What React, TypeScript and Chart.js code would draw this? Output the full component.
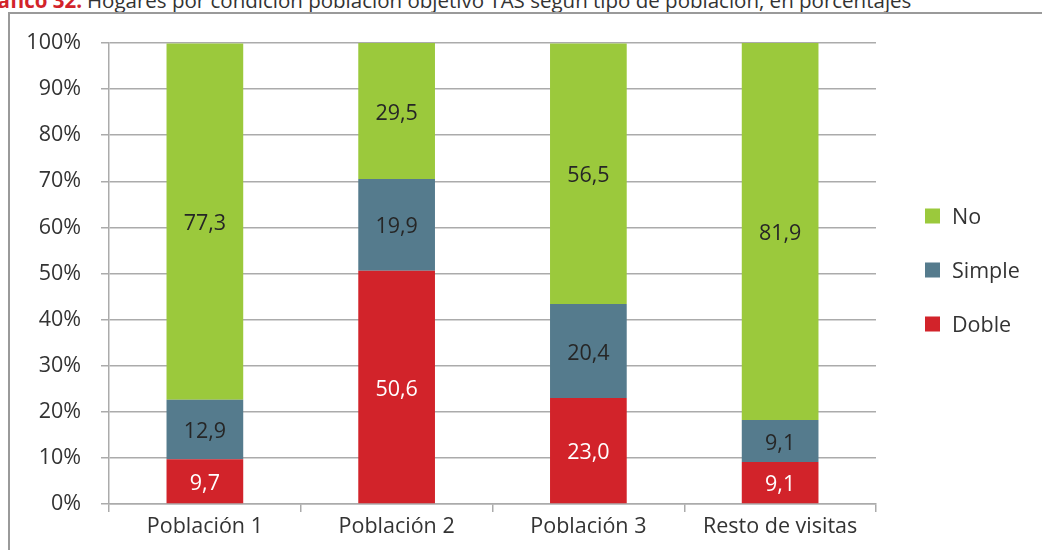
import React, { useEffect, useRef } from "react";
import { Chart, registerables } from "chart.js";

Chart.register(...registerables);

const categories = ["Población 1", "Población 2", "Población 3", "Resto de visitas"];
const seriesNames = ["Doble", "Simple", "No"];
const dobleValues = [9.7, 50.6, 23.0, 9.1];
const simpleValues = [12.9, 19.9, 20.4, 9.1];
const noValues = [77.3, 29.5, 56.5, 81.9];
const yTicks = [0, 10, 20, 30, 40, 50, 60, 70, 80, 90, 100];

const seriesColors = ["#D2232A", "#557B8D", "#9BC93C"];
const labelColors = ["#ffffff", "#262626", "#262626"];

const FONT = "'Open Sans', sans-serif";
const FS = 21.5;
const TITLE_FS = 20.5;
const TEXT = "#333333";
const GRID = "#ababab";

const dataLabelPlugin = {
  id: "dataLabels",
  afterDatasetsDraw(chart: any) {
    const ctx = chart.ctx;
    ctx.save();
    ctx.font = `${FS}px ${FONT}`;
    ctx.textAlign = "center";
    ctx.textBaseline = "middle";
    chart.data.datasets.forEach((ds: any, di: number) => {
      const meta = chart.getDatasetMeta(di);
      meta.data.forEach((bar: any, i: number) => {
        const v = ds.data[i];
        const y = (bar.y + bar.base) / 2;
        ctx.fillStyle = labelColors[di];
        ctx.fillText(v.toFixed(1).replace(".", ","), bar.x, y + 2.5);
      });
    });
    ctx.restore();
  },
};

const legendPlugin = {
  id: "customLegend",
  afterDraw(chart: any) {
    const ctx = chart.ctx;
    const area = chart.chartArea;
    const x = area.right + 49;
    const cy = 270;
    const gap = 54;
    const items = chart.data.datasets.map((d: any) => d).reverse();
    ctx.save();
    ctx.font = `${FS}px ${FONT}`;
    ctx.textBaseline = "middle";
    ctx.textAlign = "left";
    items.forEach((ds: any, i: number) => {
      const y = cy + (i - 1) * gap;
      ctx.fillStyle = ds.backgroundColor;
      ctx.fillRect(x, y - 7.5, 15, 15);
      ctx.fillStyle = TEXT;
      ctx.fillText(ds.label, x + 27, y + 2);
    });
    ctx.restore();
  },
};

export default function App() {
  const ref = useRef<HTMLCanvasElement | null>(null);

  useEffect(() => {
    if (!ref.current) return;
    const values = [dobleValues, simpleValues, noValues];
    const chart = new Chart(ref.current, {
      type: "bar",
      data: {
        labels: categories,
        datasets: seriesNames.map((name, i) => ({
          label: name,
          data: values[i],
          backgroundColor: seriesColors[i],
          borderWidth: 0,
          barPercentage: 0.4,
          categoryPercentage: 1,
        })),
      },
      options: {
        animation: false,
        responsive: false,
        maintainAspectRatio: false,
        layout: { padding: { top: 43, right: 166, bottom: 0, left: 0 } },
        plugins: {
          legend: { display: false },
          tooltip: { enabled: false },
          title: { display: false },
        },
        scales: {
          x: {
            stacked: true,
            grid: {
              display: true,
              drawOnChartArea: false,
              drawTicks: true,
              tickLength: 8,
              color: GRID,
              lineWidth: 1.5,
              offset: true,
            },
            border: { display: true, color: GRID, width: 1.5 },
            ticks: {
              color: TEXT,
              font: { family: FONT, size: FS },
              padding: 2,
              maxRotation: 0,
            },
            afterFit(scale: any) {
              scale.height = 46;
            },
          },
          y: {
            stacked: true,
            min: 0,
            max: 100,
            afterBuildTicks(scale: any) {
              scale.ticks = yTicks.map((v) => ({ value: v }));
            },
            grid: {
              color: GRID,
              lineWidth: 1.5,
              drawTicks: true,
              tickLength: 8,
            },
            border: { display: true, color: GRID, width: 1.5 },
            ticks: {
              color: TEXT,
              font: { family: FONT, size: FS },
              padding: 20,
              callback: (v: any) => `${v}%`,
            },
            afterFit(scale: any) {
              scale.width = 109;
            },
          },
        },
      },
      plugins: [dataLabelPlugin, legendPlugin],
    });
    return () => chart.destroy();
  }, []);

  return (
    <div
      style={{
        position: "absolute",
        left: 0,
        top: 0,
        width: 1042,
        height: 550,
        overflow: "hidden",
        background: "#ffffff",
        fontFamily: FONT,
      }}
    >
      <div
        style={{
          position: "absolute",
          right: 1042 - 82,
          top: -14,
          fontSize: TITLE_FS,
          fontWeight: 700,
          color: "#D2232A",
          whiteSpace: "nowrap",
          lineHeight: "28px",
        }}
      >
        Gráfico 32.
      </div>
      <div
        style={{
          position: "absolute",
          left: 87,
          top: -14,
          fontSize: TITLE_FS,
          color: TEXT,
          whiteSpace: "nowrap",
          lineHeight: "28px",
        }}
      >
        Hogares por condición población objetivo TAS según tipo de población, en porcentajes
      </div>
      <div
        style={{
          position: "absolute",
          left: 8,
          top: 12,
          width: 1100,
          height: 600,
          border: "2px solid #9a9a9a",
          boxSizing: "border-box",
        }}
      />
      <canvas
        ref={ref}
        width={1042}
        height={550}
        style={{ position: "absolute", left: 0, top: 0, width: 1042, height: 550 }}
      />
    </div>
  );
}
